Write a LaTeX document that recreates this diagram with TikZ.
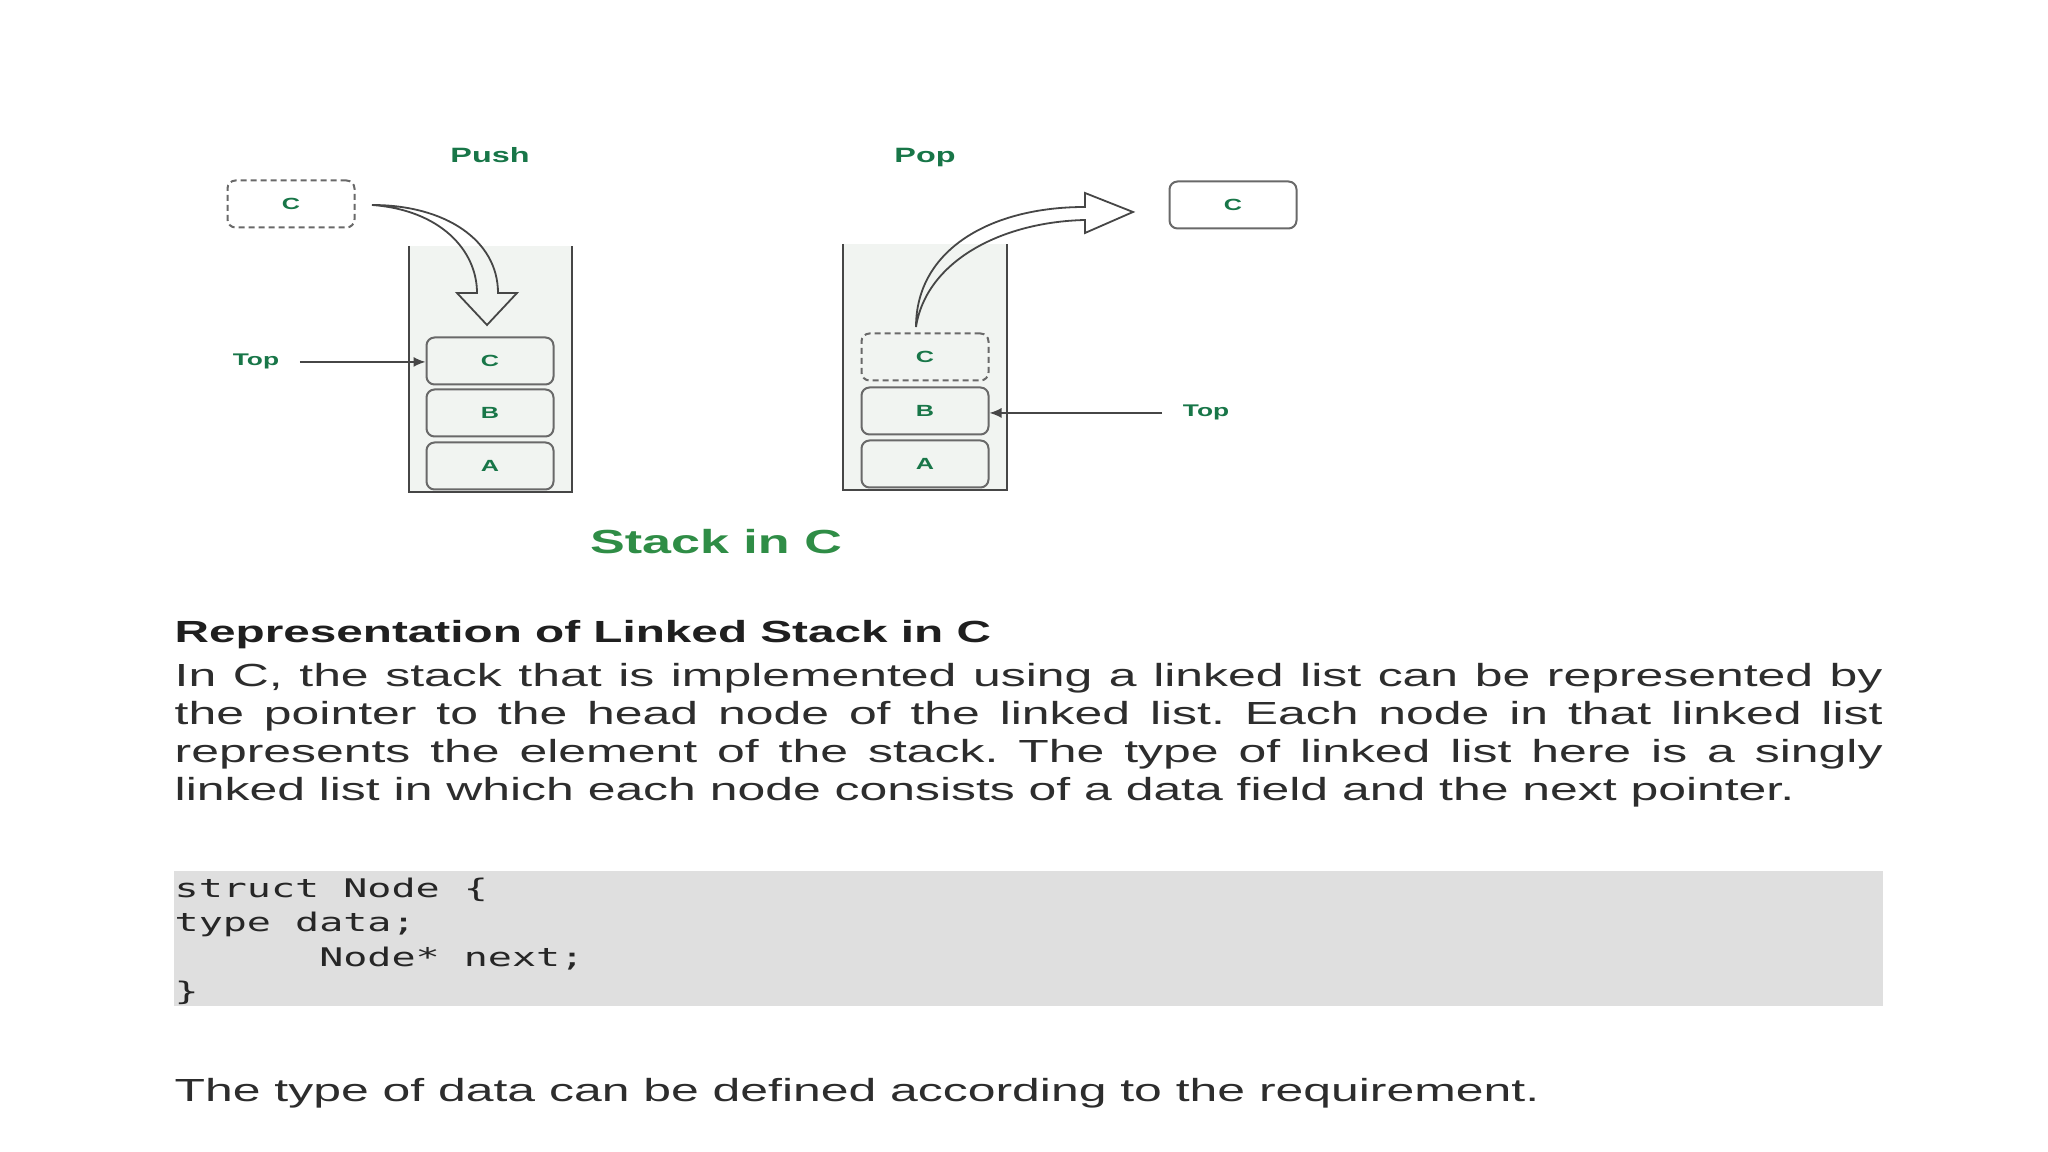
\documentclass[tikz,border=0pt]{standalone}
\usepackage{fontspec}
\setmainfont{Liberation Sans}[FakeStretch=1.56]
\newfontfamily\codefont{DejaVu Sans Mono}[FakeStretch=1.56]
\usetikzlibrary{arrows.meta}
\definecolor{GfgGreen}{RGB}{47,141,70}
\definecolor{LabelGreen}{RGB}{24,118,72}
\definecolor{StackFill}{RGB}{241,244,241}
\definecolor{BoxLine}{RGB}{105,105,105}
\definecolor{WallLine}{RGB}{70,70,70}
\definecolor{CodeBg}{RGB}{223,223,223}
\definecolor{BodyText}{RGB}{45,45,45}
\frenchspacing

\begin{document}
\begin{tikzpicture}[x=0.1mm,y=-0.1mm,
  cell/.style={rectangle,draw=BoxLine,line width=0.2mm,rounded corners=0.8mm,fill=StackFill,minimum width=12.7mm,minimum height=4.7mm,inner sep=0pt,font=\fontsize{4.6pt}{5pt}\selectfont\bfseries,text=LabelGreen},
  ghost/.style={cell,dash pattern=on 0.6mm off 0.4mm},
  lbl/.style={anchor=base,inner sep=0pt,font=\fontsize{5.9pt}{6pt}\selectfont\bfseries,text=LabelGreen},
  toplbl/.style={anchor=base,inner ysep=0pt,inner xsep=2mm,font=\fontsize{4.8pt}{5pt}\selectfont\bfseries,text=LabelGreen},
  wall/.style={draw=WallLine,line width=0.2mm},
  ptr/.style={-{Latex[length=1.2mm,width=1mm]},draw=WallLine,line width=0.15mm},
  bigarrow/.style={draw=WallLine,line width=0.18mm,line join=miter},
  body/.style={anchor=base west,inner sep=0pt,text=BodyText,font=\fontsize{9.1pt}{10.8pt}\selectfont},
  code/.style={anchor=base west,inner sep=0pt,text=black!85,font=\codefont\fontsize{7.3pt}{8pt}\selectfont}
]
  \useasboundingbox (0,0) rectangle (2048,1152);
  \fill[white] (0,0) rectangle (2048,1152);

  \fill[StackFill] (409,246) rectangle (572,492);
  \draw[wall] (409,246) -- (409,492) -- (572,492) -- (572,246);
  \fill[StackFill] (843,244) rectangle (1007,490);
  \draw[wall] (843,244) -- (843,490) -- (1007,490) -- (1007,244);

  \node[lbl] (pushT) at (490,163) {Push};
  \node[ghost,fill=white] (newC) at (291,204) {C};
  \node[cell] (pushC) at (490,361) {C};
  \node[cell] (pushB) at (490,413) {B};
  \node[cell] (pushA) at (490,466) {A};
  \node[toplbl] (pushTop) at (256,366) {Top};
  \draw[ptr] (pushTop.east) -- (pushTop.east -| pushC.west);
  \draw[bigarrow] (372,205) .. controls (445,205) and (498,240) .. (498,293) -- (517,293) -- (487,325) -- (457,293) -- (477,293) .. controls (477,250) and (440,210) .. (372,205) -- cycle;

  \node[lbl] (popT) at (925,163) {Pop};
  \node[ghost] (popC) at (925,357) {C};
  \node[cell] (popB) at (925,411) {B};
  \node[cell] (popA) at (925,464) {A};
  \node[cell,fill=white] (outC) at (1233,205) {C};
  \node[toplbl] (popTop) at (1206,417) {Top};
  \draw[ptr] (popTop.west) -- (popTop.west -| popB.east);
  \draw[bigarrow] (916,327) .. controls (916,250) and (990,207) .. (1085,207) -- (1085,193) -- (1133,212) -- (1085,233) -- (1085,220) .. controls (1000,222) and (926,262) .. (916,327) -- cycle;

  \node[anchor=base,inner sep=0pt,text=GfgGreen,font=\fontsize{9.5pt}{10pt}\selectfont\bfseries] (title) at (716,554) {Stack in C};

  \node[body,text=black!88,font=\fontsize{8.7pt}{9pt}\selectfont\bfseries] (head) at (174,643) {Representation of Linked Stack in C};
  \node[body,text width=170.8mm,align=justify] (para) at (174,687) {In C, the stack that is implemented using a linked list can be represented by\linebreak the pointer to the head node of the linked list. Each node in that linked list\linebreak represents the element of the stack. The type of linked list here is a singly\linebreak linked list in which each node consists of a data field and the next pointer.};

  \fill[CodeBg] (174,871) rectangle (1883,1006);
  \node[code] (c1) at (174,898) {struct Node \{};
  \node[code] (c2) at (174,932) {type data;};
  \node[code] (c3) at (174,967) {\phantom{xxxxxx}Node* next;};
  \node[code] (c4) at (174,1001) {\}};

  \node[body] (note) at (174,1102) {The type of data can be defined according to the requirement.};
\end{tikzpicture}
\end{document}
